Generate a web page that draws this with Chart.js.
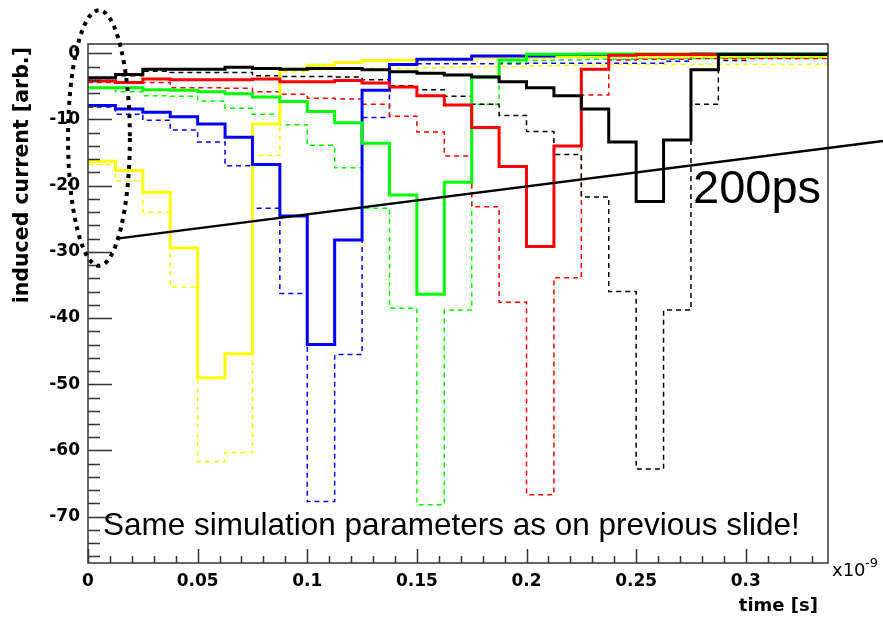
<!DOCTYPE html>
<html>
<head>
<meta charset="utf-8">
<title>induced current vs time</title>
<script src="https://cdn.jsdelivr.net/npm/chart.js@4.4.1/dist/chart.umd.min.js"></script>
<style>
  html, body { margin: 0; padding: 0; background: #fff; }
  #wrap { width: 883px; height: 620px; }
</style>
</head>
<body>
<div id="wrap"><canvas id="chart" width="883" height="620"></canvas></div>
<script>
// --- Data: bin left edges (x10^-9 s) and induced current per bin [arb.] ---
const binEdges = [0, 0.0125, 0.025, 0.0375, 0.05, 0.0625, 0.075, 0.0875, 0.1, 0.1125,
    0.125, 0.1375, 0.15, 0.1625, 0.175, 0.1875, 0.2, 0.2125, 0.225, 0.2375,
    0.25, 0.2625, 0.275, 0.2875, 0.3, 0.3125, 0.325];
const timeMax = 0.3375;

const yellowSolid = [-16.3, -17.7, -21.0, -29.4, -49.0, -45.4, -10.7, -2.4, -1.8, -1.4, -1.1, -1.0, -0.9, -0.9, -0.6, -0.6, -0.6, -0.5, -0.5, -0.4, -0.4, -0.4, -0.4, -0.4, -0.4, -0.4, -0.4];
const yellowDashed = [-16.8, -19.3, -24.0, -35.3, -61.7, -60.3, -15.4, -2.8, -2.5, -2.4, -2.3, -2.3, -2.2, -2.1, -2.0, -2.0, -1.9, -1.8, -1.8, -1.7, -1.7, -1.7, -1.7, -1.7, -1.7, -1.7, -1.7];
const blueSolid = [-7.9, -8.4, -8.9, -9.6, -10.7, -12.7, -16.8, -24.6, -44.0, -28.2, -5.6, -1.7, -0.9, -0.9, -0.4, -0.4, -0.4, -0.2, -0.2, -0.2, -0.2, -0.2, -0.1, -0.1, -0.1, -0.1, -0.1];
const blueDashed = [-8.1, -9.2, -10.1, -11.6, -13.4, -17.0, -23.4, -36.3, -67.7, -45.5, -9.7, -1.8, -1.6, -1.6, -1.6, -1.6, -1.5, -1.5, -1.5, -1.5, -1.5, -1.2, -0.4, -0.4, -0.4, -0.4, -0.4];
const greenSolid = [-5.2, -5.2, -5.5, -5.6, -5.8, -6.1, -6.6, -7.3, -8.8, -10.5, -13.6, -21.4, -36.4, -19.5, -3.6, -1.0, -0.15, -0.15, -0.1, -0.1, -0.1, -0.1, -0.1, -0.1, -0.1, -0.1, -0.1];
const greenDashed = [-5.3, -5.8, -6.4, -6.5, -7.2, -8.3, -9.2, -10.8, -13.9, -17.3, -23.4, -38.5, -68.2, -38.8, -7.7, -1.4, -1.1, -1.0, -0.9, -0.9, -0.8, -0.8, -0.8, -0.7, -0.7, -0.7, -0.7];
const redSolid = [-4.2, -4.4, -3.9, -4.0, -4.0, -4.0, -3.9, -4.3, -4.3, -4.1, -4.5, -5.1, -6.4, -7.8, -11.2, -17.1, -29.2, -14.0, -2.4, -0.3, -0.2, -0.2, -0.2, -0.2, -0.2, -0.2, -0.2];
const redDashed = [-4.4, -4.5, -4.4, -5.2, -5.2, -5.3, -5.8, -6.2, -6.8, -6.9, -7.7, -9.5, -11.9, -15.5, -23.2, -37.6, -66.7, -33.9, -6.3, -1.0, -0.9, -0.9, -0.8, -0.8, -0.8, -0.8, -0.8];
const blackSolid = [-3.7, -3.2, -2.4, -2.4, -2.4, -2.1, -2.3, -2.4, -2.3, -2.3, -2.5, -2.8, -3.0, -3.3, -3.6, -4.3, -5.2, -6.4, -8.4, -13.4, -22.4, -13.1, -2.5, -0.2, -0.2, -0.2, -0.2];
const blackDashed = [-3.8, -3.4, -2.7, -2.9, -2.9, -2.9, -3.4, -3.5, -3.5, -3.6, -4.0, -4.9, -5.5, -6.5, -7.7, -9.4, -11.8, -15.3, -21.7, -36.0, -62.8, -38.8, -7.7, -1.1, -0.3, -0.3, -0.3];

const xTickValues = [0, 0.05, 0.1, 0.15, 0.2, 0.25, 0.3];
const xTickLabels = ['0', '0.05', '0.1', '0.15', '0.2', '0.25', '0.3'];
const yTickValues = [0, -10, -20, -30, -40, -50, -60, -70];

// slide annotations, in data units (time, current)
const lineStart = [0.0132, -28.0];
const lineEnd = [0.3627, -13.25];
const ringCenter = [0.005, -12.8];
const ringRadius = [0.0141, 19.3];

// --- Helpers ---
function histPoints(values) {
    const pts = binEdges.map((t, i) => ({ x: t, y: values[i] }));
    pts.push({ x: timeMax, y: values[values.length - 1] });
    return pts;
}

function series(values, color, dashed) {
    return {
        data: histPoints(values),
        borderColor: color,
        borderWidth: dashed ? 1.5 : 3,
        borderDash: dashed ? [5, 4] : [],
        stepped: 'before',
        pointRadius: 0,
        fill: false,
        borderJoinStyle: 'miter'
    };
}

// --- Frame, ticks, titles and slide overlays ---
const decorations = {
    id: 'decorations',
    afterDatasetsDraw(chart) {
        const { ctx, chartArea: a, scales: { x, y } } = chart;
        ctx.save();
        ctx.strokeStyle = '#333';
        ctx.lineWidth = 1.5;
        ctx.strokeRect(a.left, a.top, a.right - a.left, a.bottom - a.top);

        ctx.beginPath();
        for (let v = 0; v >= y.min; v -= 2) {
            const py = Math.round(y.getPixelForValue(v)) + 0.5;
            const len = v % 10 === 0 ? 24 : 12;
            ctx.moveTo(a.left, py);
            ctx.lineTo(a.left + len, py);
        }
        for (let i = 0; i * 0.01 <= x.max; i++) {
            const px = Math.round(x.getPixelForValue(i * 0.01)) + 0.5;
            const len = i % 5 === 0 ? 14 : 7;
            ctx.moveTo(px, a.bottom);
            ctx.lineTo(px, a.bottom - len);
        }
        ctx.stroke();

        // axis titles
        ctx.fillStyle = '#000';
        ctx.font = 'bold 20.5px "DejaVu Sans"';
        ctx.save();
        ctx.translate(23, a.top + 3);
        ctx.rotate(-Math.PI / 2);
        ctx.textAlign = 'right';
        ctx.textBaseline = 'middle';
        ctx.fillText('induced current [arb.]', 0, 0);
        ctx.restore();

        ctx.font = 'bold 18px "DejaVu Sans"';
        ctx.textAlign = 'right';
        ctx.textBaseline = 'middle';
        ctx.fillText('time [s]', 818, 606);

        ctx.textAlign = 'left';
        ctx.textBaseline = 'alphabetic';
        ctx.font = '18px "DejaVu Sans"';
        ctx.fillText('x10', 832, 576);
        ctx.font = '13px "DejaVu Sans"';
        ctx.fillText('-9', 865, 567);
        ctx.restore();
    },
    afterDraw(chart) {
        const { ctx, scales: { x, y } } = chart;
        ctx.save();

        // dotted ring around the first bins
        const cx = x.getPixelForValue(ringCenter[0]);
        const cy = y.getPixelForValue(ringCenter[1]);
        const rx = x.getPixelForValue(ringCenter[0] + ringRadius[0]) - cx;
        const ry = y.getPixelForValue(ringCenter[1] - ringRadius[1]) - cy;
        ctx.strokeStyle = '#000';
        ctx.lineWidth = 4;
        ctx.setLineDash([4, 5]);
        ctx.beginPath();
        ctx.ellipse(cx, cy, rx, ry, 0, 0, Math.PI * 2);
        ctx.stroke();

        // slanted line
        ctx.setLineDash([]);
        ctx.lineWidth = 2.5;
        ctx.beginPath();
        ctx.moveTo(x.getPixelForValue(lineStart[0]), y.getPixelForValue(lineStart[1]));
        ctx.lineTo(x.getPixelForValue(lineEnd[0]), y.getPixelForValue(lineEnd[1]));
        ctx.stroke();

        ctx.fillStyle = '#000';
        ctx.textAlign = 'left';
        ctx.textBaseline = 'alphabetic';
        ctx.font = '47px "Liberation Sans"';
        ctx.fillText('200ps', 693, 203);
        ctx.font = '31.5px "Liberation Sans"';
        ctx.fillText('Same simulation parameters as on previous slide!', 103, 535);
        ctx.restore();
    }
};

const chart = new Chart(document.getElementById('chart'), {
    type: 'line',
    data: {
        datasets: [
            series(blackSolid, '#000000', false),
            series(redSolid, '#ff0000', false),
            series(greenSolid, '#00ff00', false),
            series(blueSolid, '#0000ff', false),
            series(yellowSolid, '#ffff00', false),
            series(blackDashed, '#000000', true),
            series(redDashed, '#ff0000', true),
            series(greenDashed, '#00ff00', true),
            series(blueDashed, '#0000ff', true),
            series(yellowDashed, '#ffff00', true)
        ]
    },
    options: {
        responsive: false,
        animation: false,
        layout: { padding: { top: 44, right: 55, left: 0, bottom: 0 } },
        plugins: { legend: { display: false }, tooltip: { enabled: false } },
        scales: {
            x: {
                type: 'linear',
                min: 0,
                max: timeMax,
                grid: { display: false, drawTicks: false },
                border: { display: false },
                afterBuildTicks: (scale) => { scale.ticks = xTickValues.map(v => ({ value: v })); },
                afterFit: (scale) => { scale.height = 57; },
                ticks: {
                    padding: 8,
                    maxRotation: 0,
                    autoSkip: false,
                    color: '#000',
                    font: { family: '"DejaVu Sans"', size: 17, weight: 'bold' },
                    callback: (v) => xTickLabels[xTickValues.indexOf(v)]
                }
            },
            y: {
                type: 'linear',
                min: -77,
                max: 1.4,
                grid: { display: false, drawTicks: false },
                border: { display: false },
                afterBuildTicks: (scale) => { scale.ticks = yTickValues.map(v => ({ value: v })); },
                afterFit: (scale) => { scale.width = 88; },
                ticks: {
                    padding: 8,
                    autoSkip: false,
                    color: '#000',
                    font: { family: '"DejaVu Sans"', size: 17, weight: 'bold' },
                    callback: (v) => String(v)
                }
            }
        }
    },
    plugins: [decorations]
});
</script>
</body>
</html>
